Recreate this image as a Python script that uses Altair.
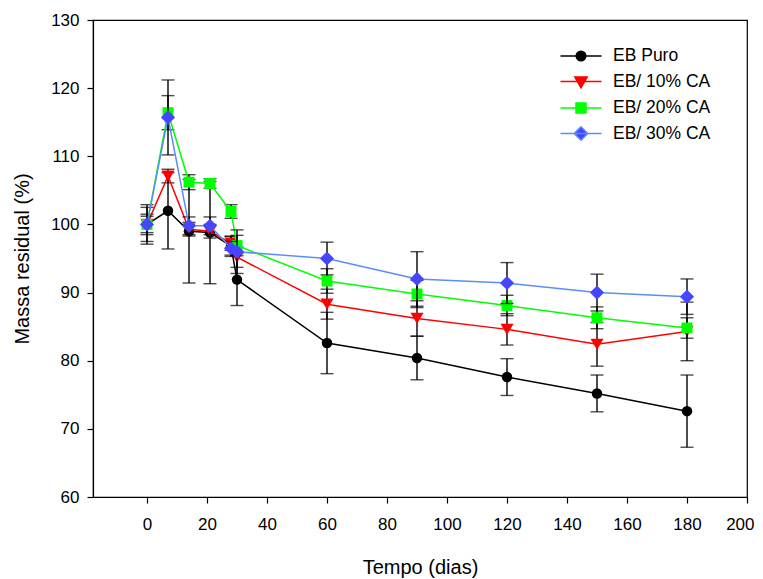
import altair as alt
import pandas as pd

days = [0, 7, 14, 21, 28, 30, 60, 90, 120, 150, 180]
series_names = ["EB Puro", "EB/ 10% CA", "EB/ 20% CA", "EB/ 30% CA"]

puro = [100.0, 102.0, 99.0, 98.8, 96.8, 91.9, 82.6, 80.4, 77.6, 75.2, 72.6]
puro_err = [2.9, 5.6, 7.6, 7.5, 1.5, 3.8, 4.5, 3.2, 2.7, 2.7, 5.3]

ca10 = [100.0, 107.1, 99.3, 99.0, 97.2, 95.2, 88.3, 86.2, 84.6, 82.4, 84.3]
ca10_err = [1.5, 1.0, 1.0, 1.0, 1.0, 1.5, 2.2, 2.6, 2.3, 3.2, 4.3]

ca20 = [100.0, 116.4, 106.2, 106.0, 101.9, 96.9, 91.7, 89.8, 88.1, 86.3, 84.8]
ca20_err = [1.2, 2.5, 1.1, 0.7, 1.0, 1.5, 1.8, 2.0, 1.5, 1.6, 1.5]

ca30 = [100.0, 115.7, 99.8, 99.8, 96.5, 96.0, 95.0, 92.0, 91.4, 90.0, 89.4]
ca30_err = [2.5, 5.5, 1.3, 1.3, 1.0, 3.2, 2.4, 4.0, 3.0, 2.7, 2.6]

values = [puro, ca10, ca20, ca30]
errors = [puro_err, ca10_err, ca20_err, ca30_err]

line_colors = ["#000000", "#FF0000", "#00FF00", "#5A8CFF"]
marker_colors = ["#000000", "#FF0000", "#00FF00", "#4646FF"]
marker_shapes = ["circle", "triangle-down", "square", "diamond"]
marker_sizes = [110, 170, 120, 200]

legend_paths = [
    "M-2.05,0L2.05,0M0.48,0A0.48,0.48,0,1,1,-0.48,0A0.48,0.48,0,1,1,0.48,0Z",
    "M-2.05,0L2.05,0M-0.62,-0.45L0.62,-0.45L0,0.62Z",
    "M-2.05,0L2.05,0M-0.5,-0.5L0.5,-0.5L0.5,0.5L-0.5,0.5Z",
    "M-2.05,0L2.05,0M0,-0.68L0.68,0L0,0.68L-0.68,0Z",
]

FONT = "Liberation Sans"

xscale = alt.Scale(domain=[-18, 200], nice=False, zero=False)
yscale = alt.Scale(domain=[60, 130], nice=False, zero=False)
xaxis = alt.Axis(values=list(range(0, 201, 20)), title="Tempo (dias)", grid=False,
                 labelFlush=True, labelFlushOffset=7)
yaxis = alt.Axis(values=list(range(60, 131, 10)), title="Massa residual (%)", grid=False)

layers = []
for i, name in enumerate(series_names):
    df = pd.DataFrame({
        "day": days,
        "val": values[i],
        "lo": [v - e for v, e in zip(values[i], errors[i])],
        "hi": [v + e for v, e in zip(values[i], errors[i])],
    })
    base = alt.Chart(df)
    X = alt.X("day:Q", scale=xscale, axis=xaxis)
    rule = base.mark_rule(color="black", strokeWidth=1.4).encode(
        x=X, y=alt.Y("lo:Q", scale=yscale, axis=yaxis), y2="hi:Q")
    caps = base.transform_fold(["lo", "hi"], as_=["k", "v"]).mark_tick(
        orient="horizontal", size=13, thickness=1.4, color="black").encode(
        x=X, y=alt.Y("v:Q", scale=yscale, axis=yaxis))
    line = base.mark_line(color=line_colors[i], strokeWidth=1.5).encode(
        x=X, y=alt.Y("val:Q", scale=yscale, axis=yaxis))
    pts = base.mark_point(shape=marker_shapes[i], filled=True, size=marker_sizes[i],
                          color=marker_colors[i], opacity=1).encode(
        x=X, y=alt.Y("val:Q", scale=yscale, axis=yaxis))
    layers += [rule, caps, line, pts]

leg_df = pd.DataFrame({"series": series_names, "day": [0] * 4, "val": [100.0] * 4})
legend = alt.Legend(title=None, orient="none", legendX=477, legendY=25,
                    symbolSize=400, symbolStrokeWidth=1.5, symbolOpacity=1,
                    labelFont=FONT, labelFontSize=17.5, labelColor="black",
                    labelOffset=21, rowPadding=5.5, padding=0, labelLimit=300)
dummy = alt.Chart(leg_df).mark_point(filled=True, opacity=0, strokeWidth=1.5).encode(
    x=alt.X("day:Q", scale=xscale, axis=xaxis),
    y=alt.Y("val:Q", scale=yscale, axis=yaxis),
    shape=alt.Shape("series:N", scale=alt.Scale(domain=series_names, range=legend_paths), legend=legend),
    fill=alt.Fill("series:N", scale=alt.Scale(domain=series_names, range=marker_colors), legend=legend),
    stroke=alt.Stroke("series:N", scale=alt.Scale(domain=series_names, range=line_colors), legend=legend),
)
layers.append(dummy)

chart = alt.layer(*layers).properties(
    width=654, height=477,
    autosize=alt.AutoSizeParams(type="none"),
    padding={"left": 85, "top": 12, "right": 8, "bottom": 82},
).configure_view(
    stroke="black", strokeWidth=1.2
).configure_axis(
    domainColor="black", domainWidth=1.2, tickColor="black", tickWidth=1.2, tickSize=6,
    labelFont=FONT, labelFontSize=17, labelColor="black",
    titleFont=FONT, titleFontSize=20, titleFontWeight="normal", titleColor="black",
).configure_axisX(
    labelPadding=13, titlePadding=25
).configure_axisY(
    labelPadding=8, titlePadding=18
)

chart.save("out.html", embed_options={"renderer": "svg", "actions": False})
